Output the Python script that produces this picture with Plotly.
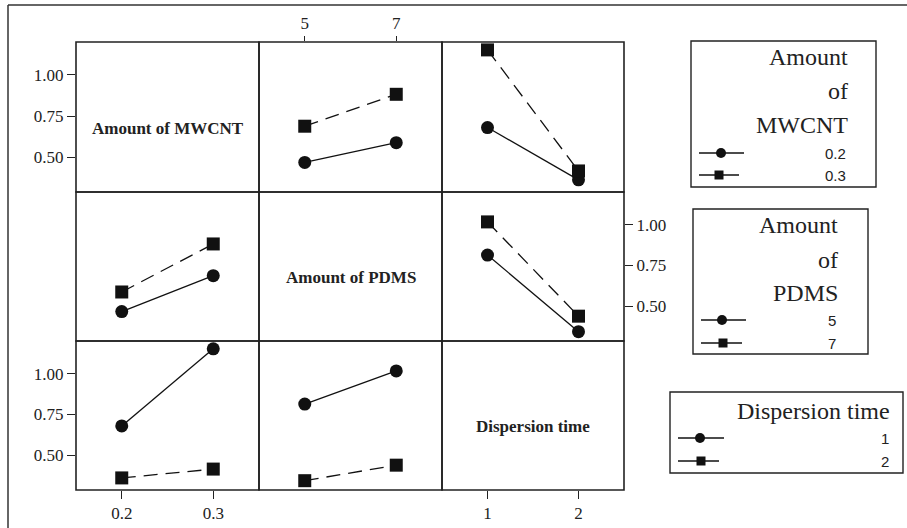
import plotly.graph_objects as go

# ---------------- data ----------------
mwcnt_levels = [0.2, 0.3]
pdms_levels = [5, 7]
dt_levels = [1, 2]

# interaction means (row factor level x column factor level)
mean_mwcnt_pdms = [[0.468, 0.588],   # MWCNT 0.2 at PDMS 5, 7
                   [0.688, 0.882]]   # MWCNT 0.3 at PDMS 5, 7
mean_mwcnt_dt = [[0.680, 0.362],     # MWCNT 0.2 at DT 1, 2
                 [1.152, 0.416]]     # MWCNT 0.3 at DT 1, 2
mean_pdms_dt = [[0.814, 0.345],      # PDMS 5 at DT 1, 2
                [1.017, 0.440]]      # PDMS 7 at DT 1, 2

factor_names = ["Amount of MWCNT", "Amount of PDMS", "Dispersion time"]
legend_titles = [["Amount", "of", "MWCNT"], ["Amount", "of", "PDMS"], ["Dispersion time"]]
legend_labels = [["0.2", "0.3"], ["5", "7"], ["1", "2"]]
y_tickvals = [0.50, 0.75, 1.00]
y_ticktext = ["0.50", "0.75", "1.00"]
x_tickvals = [[0.2, 0.3], [5, 7], [1, 2]]
x_ticktext = [["0.2", "0.3"], ["5", "7"], ["1", "2"]]

# ---------------- layout geometry ----------------
W, H = 907, 528
SERIF = "Liberation Serif"
SANS = "Liberation Sans"
col_edges = [76, 259, 442, 624]
row_edges = [42, 192, 341, 490]
x_ranges = [[0.15, 0.35], [4.0, 8.0], [0.5, 2.5]]
y_range = [0.288, 1.2]


def fx(v):
    return v / W


def fy(v):
    return 1 - v / H


fig = go.Figure()

levels = [mwcnt_levels, pdms_levels, dt_levels]


def means(rf, cf):
    """Return list of y-series (one per row-factor level) over column-factor levels."""
    pair = {(0, 1): mean_mwcnt_pdms, (0, 2): mean_mwcnt_dt, (1, 2): mean_pdms_dt}
    if (rf, cf) in pair:
        m = pair[(rf, cf)]
        return [list(m[i]) for i in range(2)]
    m = pair[(cf, rf)]
    return [[m[0][j], m[1][j]] for j in range(2)]


line_styles = [dict(dash="solid", symbol="circle"), dict(dash="14px,8px", symbol="square")]

TICKFONT = dict(family=SERIF, size=17, color="#222")
layout_axes = {}
for r in range(3):
    for c in range(3):
        n = r * 3 + c + 1
        xname = "xaxis" if n == 1 else f"xaxis{n}"
        yname = "yaxis" if n == 1 else f"yaxis{n}"
        xref = "x" if n == 1 else f"x{n}"
        yref = "y" if n == 1 else f"y{n}"
        xa = dict(domain=[fx(col_edges[c]), fx(col_edges[c + 1])],
                  range=x_ranges[c], anchor=yref, showgrid=False, zeroline=False,
                  showline=False, ticks="", showticklabels=False, fixedrange=True,
                  tickfont=TICKFONT, tickcolor="#222", tickwidth=1)
        ya = dict(domain=[fy(row_edges[r + 1]), fy(row_edges[r])],
                  range=y_range, anchor=xref, showgrid=False, zeroline=False,
                  showline=False, ticks="", showticklabels=False, fixedrange=True,
                  tickfont=TICKFONT, tickcolor="#222", tickwidth=1)
        if c == 0 and r in (0, 2):
            ya.update(ticks="outside", ticklen=8, showticklabels=True, side="left",
                      tickvals=y_tickvals, ticktext=y_ticktext)
        if c == 2 and r == 1:
            ya.update(ticks="outside", ticklen=8, showticklabels=True, side="right",
                      tickvals=y_tickvals, ticktext=y_ticktext)
        if r == 0 and c == 1:
            xa.update(ticks="outside", ticklen=5, showticklabels=True, side="top",
                      tickvals=x_tickvals[c], ticktext=x_ticktext[c])
        if r == 2 and c in (0, 2):
            xa.update(ticks="outside", ticklen=8, showticklabels=True, side="bottom",
                      tickvals=x_tickvals[c], ticktext=x_ticktext[c])
        layout_axes[xname] = xa
        layout_axes[yname] = ya

        if r != c:
            series = means(r, c)
            for k, ys in enumerate(series):
                st = line_styles[k]
                fig.add_trace(go.Scatter(
                    x=levels[c], y=ys, xaxis=xref, yaxis=yref, mode="lines+markers",
                    line=dict(color="#111", width=1.3, dash=st["dash"]),
                    marker=dict(symbol=st["symbol"], size=13, color="#111"),
                    showlegend=False, cliponaxis=False, hoverinfo="skip"))
        else:
            # empty trace so that the diagonal subplot (and its ticks) is drawn
            fig.add_trace(go.Scatter(x=[], y=[], xaxis=xref, yaxis=yref,
                                     mode="markers", showlegend=False, hoverinfo="skip"))
            fig.add_annotation(text="<b>%s</b>" % factor_names[r], xref="paper", yref="paper",
                               x=fx((col_edges[c] + col_edges[c + 1]) / 2),
                               y=fy((row_edges[r] + row_edges[r + 1]) / 2 + 11),
                               showarrow=False, xanchor="center", yanchor="middle",
                               font=dict(family=SERIF, size=17, color="#222"))

shapes = []
for r in range(3):
    for c in range(3):
        shapes.append(dict(type="rect", xref="paper", yref="paper",
                           x0=fx(col_edges[c]), x1=fx(col_edges[c + 1]),
                           y0=fy(row_edges[r + 1]), y1=fy(row_edges[r]),
                           line=dict(color="#222", width=1.6), layer="below"))
shapes.append(dict(type="line", xref="paper", yref="paper", x0=fx(8), x1=fx(907),
                   y0=fy(5), y1=fy(5), line=dict(color="#333", width=1.5)))
shapes.append(dict(type="line", xref="paper", yref="paper", x0=fx(8), x1=fx(8),
                   y0=fy(5), y1=fy(528), line=dict(color="#333", width=1.5)))

legend_boxes = [(691, 41, 876, 187), (693, 209, 868, 354), (670, 392, 903, 473)]
title_right = [850, 840, 892]
title_baselines = [[65, 98, 132], [233, 267, 300], [418]]
key_rows = [
    [(699, 744, 721, 153), (699, 739, 719, 175)],
    [(701, 746, 722, 320), (701, 742, 723, 343)],
    [(678, 724, 700, 438), (678, 719, 701, 461)],
]
label_right = [848, 838, 891]

for i in range(3):
    x0, y0, x1, y1 = legend_boxes[i]
    shapes.append(dict(type="rect", xref="paper", yref="paper", x0=fx(x0), x1=fx(x1),
                       y0=fy(y1), y1=fy(y0), line=dict(color="#222", width=1.4)))
    for t, bl in zip(legend_titles[i], title_baselines[i]):
        fig.add_annotation(text=t, xref="paper", yref="paper", x=fx(title_right[i]),
                           y=fy(bl - 7.5), showarrow=False, xanchor="right", yanchor="middle",
                           font=dict(family=SERIF, size=24, color="#222"))
    for k in range(2):
        lx0, lx1, mx, yy = key_rows[i][k]
        st = line_styles[k]
        shapes.append(dict(type="line", xref="paper", yref="paper", x0=fx(lx0), x1=fx(lx1),
                           y0=fy(yy), y1=fy(yy), line=dict(color="#111", width=1.3)))
        if st["symbol"] == "circle":
            shapes.append(dict(type="circle", xref="paper", yref="paper",
                               x0=fx(mx - 5), x1=fx(mx + 5), y0=fy(yy + 5), y1=fy(yy - 5),
                               fillcolor="#111", line=dict(color="#111", width=0)))
        else:
            shapes.append(dict(type="rect", xref="paper", yref="paper",
                               x0=fx(mx - 4.5), x1=fx(mx + 4.5), y0=fy(yy + 4.5), y1=fy(yy - 4.5),
                               fillcolor="#111", line=dict(color="#111", width=0)))
        fig.add_annotation(text=legend_labels[i][k], xref="paper", yref="paper",
                           x=fx(label_right[i]), y=fy(yy), showarrow=False,
                           xanchor="right", yanchor="middle",
                           font=dict(family=SANS, size=15, color="#222"))

fig.update_layout(width=W, height=H, margin=dict(l=0, r=0, t=0, b=0),
                  paper_bgcolor="white", plot_bgcolor="rgba(0,0,0,0)",
                  showlegend=False, shapes=shapes, **layout_axes)

fig.write_html("out.html", config={"displayModeBar": False})
